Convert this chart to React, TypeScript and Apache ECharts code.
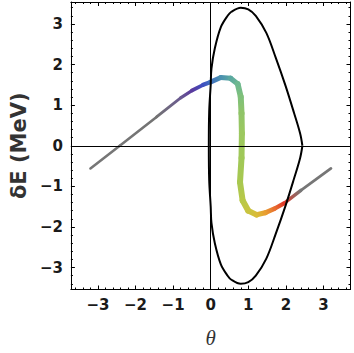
import React, { useEffect, useRef } from "react";
import * as echarts from "echarts";

// Axis extents (read from frame position)
const X_MIN = -3.72;
const X_MAX = 3.72;
const Y_MIN = -3.54;
const Y_MAX = 3.54;

// Separatrix (bucket boundary), starting at the right cusp
const sepX = [2.44, 2.38, 2.22, 1.99, 1.73, 1.48, 1.2, 1.0, 0.8, 0.55, 0.45, 0.27, 0.11, 0.02, 0.0, -0.04, -0.05,
  -0.04, 0.0, 0.02, 0.11, 0.27, 0.45, 0.55, 0.8, 1.0, 1.2, 1.48, 1.73, 1.99, 2.22, 2.38, 2.44];
const sepY = [0, 0.3, 0.8, 1.48, 2.17, 2.78, 3.2, 3.36, 3.4, 3.3, 3.2, 2.92, 2.4, 1.9, 1.5, 0.85, 0,
  -0.85, -1.5, -1.9, -2.4, -2.92, -3.2, -3.3, -3.4, -3.36, -3.2, -2.78, -2.17, -1.48, -0.8, -0.3, 0];

// Particle distribution, read along the band
const pathX = [-3.2, -2.42, -1.44, -0.8, -0.5, -0.2, 0.0, 0.27, 0.53, 0.72, 0.8, 0.82, 0.83, 0.82, 0.78, 0.85, 1.0, 1.22, 1.45, 1.7, 1.95, 2.4, 3.2];
const pathY = [-0.56, 0.0, 0.71, 1.18, 1.36, 1.5, 1.57, 1.68, 1.66, 1.52, 1.2, 0.8, 0.3, -0.3, -0.9, -1.35, -1.6, -1.7, -1.65, -1.55, -1.42, -1.1, -0.56];
const pathColors = ["#767676", "#767676", "#737373", "#6a5a90", "#5a3a9e", "#3e4fc0", "#4070c0", "#4a90b0", "#5aa8a0", "#6db890", "#7fc07a", "#90c468", "#9cc860", "#a0c858", "#a8c850", "#b8c848", "#c8c440", "#d8bc38", "#e8a030", "#e87030", "#e03828", "#767676", "#767676"];
const pathWidths = [2.6, 2.6, 2.6, 3, 3.5, 4, 4.5, 5, 5, 5.5, 6, 6, 6, 6, 6, 6, 6, 5.5, 5, 4.5, 4, 3, 2.6];

const xTickFmt = (v: number) => {
  if (Math.abs(v - Math.round(v)) > 1e-6) return "";
  return v < 0 ? "\u2212" + Math.abs(v) : String(v);
};

export default function App() {
  const ref = useRef<HTMLDivElement>(null);
  useEffect(() => {
    if (!ref.current) return;
    document.body.style.margin = "0";
    const chart = echarts.init(ref.current, undefined, { renderer: "svg" });

    const segData: number[][] = [];
    for (let i = 0; i < pathX.length - 1; i++) {
      segData.push([pathX[i], pathY[i], pathX[i + 1], pathY[i + 1], i]);
    }

    const tickLabel = {
      fontFamily: "DejaVu Sans",
      fontWeight: "bold" as const,
      fontSize: 15,
      color: "#1a1a1a",
      formatter: xTickFmt,
      showMinLabel: false,
      showMaxLabel: false,
    };
    const line = { show: true, onZero: false, lineStyle: { color: "#000", width: 1 } };
    const tick = { show: true, inside: true, length: 4, lineStyle: { color: "#000", width: 1 } };
    const minor = { show: true, splitNumber: 5, length: 2, lineStyle: { color: "#000", width: 1 } };

    chart.setOption({
      animation: false,
      grid: { left: 61, top: 2, right: 3.5, bottom: 63, containLabel: false },
      xAxis: [
        {
          type: "value", min: X_MIN, max: X_MAX, splitNumber: 7, position: "bottom",
          axisLine: line, axisTick: tick, minorTick: minor, splitLine: { show: false },
          axisLabel: { ...tickLabel, margin: 8 },
          name: "\u03b8", nameLocation: "middle", nameGap: 48,
          nameTextStyle: { fontFamily: "Liberation Serif", fontStyle: "italic", fontSize: 21, color: "#333", verticalAlign: "middle" },
        },
        {
          type: "value", min: X_MIN, max: X_MAX, splitNumber: 7, position: "top",
          axisLine: line, axisTick: tick, minorTick: minor, splitLine: { show: false },
          axisLabel: { show: false },
        },
      ],
      yAxis: [
        {
          type: "value", min: Y_MIN, max: Y_MAX, splitNumber: 7, position: "left",
          axisLine: line, axisTick: tick, minorTick: minor, splitLine: { show: false },
          axisLabel: { ...tickLabel, margin: 8 },
          name: "\u03b4E (MeV)", nameLocation: "middle", nameGap: 46,
          nameTextStyle: { fontFamily: "DejaVu Sans", fontWeight: "bold", fontSize: 21, color: "#333", verticalAlign: "middle" },
        },
        {
          type: "value", min: Y_MIN, max: Y_MAX, splitNumber: 7, position: "right",
          axisLine: line, axisTick: tick, minorTick: minor, splitLine: { show: false },
          axisLabel: { show: false },
        },
      ],
      series: [
        {
          type: "line",
          z: 1,
          data: [[0, 0]],
          showSymbol: false,
          lineStyle: { opacity: 0 },
          markLine: {
            silent: true,
            symbol: ["none", "none"],
            label: { show: false },
            lineStyle: { color: "#000", width: 1, type: "solid" },
            data: [{ xAxis: 0 }, { yAxis: 0 }],
          },
        },
        {
          type: "custom",
          z: 2,
          data: segData,
          encode: { x: [0, 2], y: [1, 3] },
          renderItem: (params: any, api: any) => {
            const i = api.value(4);
            const p1 = api.coord([api.value(0), api.value(1)]);
            const p2 = api.coord([api.value(2), api.value(3)]);
            return {
              type: "line",
              shape: { x1: p1[0], y1: p1[1], x2: p2[0], y2: p2[1] },
              style: {
                stroke: new echarts.graphic.LinearGradient(p1[0], p1[1], p2[0], p2[1], [
                  { offset: 0, color: pathColors[i] },
                  { offset: 1, color: pathColors[i + 1] },
                ], true),
                lineWidth: (pathWidths[i] + pathWidths[i + 1]) / 2,
                lineCap: "round",
              },
            };
          },
        },
        {
          type: "line",
          z: 3,
          data: sepX.map((x, i) => [x, sepY[i]]),
          smooth: 0.35,
          showSymbol: false,
          lineStyle: { color: "#000", width: 2 },
        },
      ],
    });
    return () => chart.dispose();
  }, []);
  return <div ref={ref} style={{ width: 354, height: 353 }} />;
}
